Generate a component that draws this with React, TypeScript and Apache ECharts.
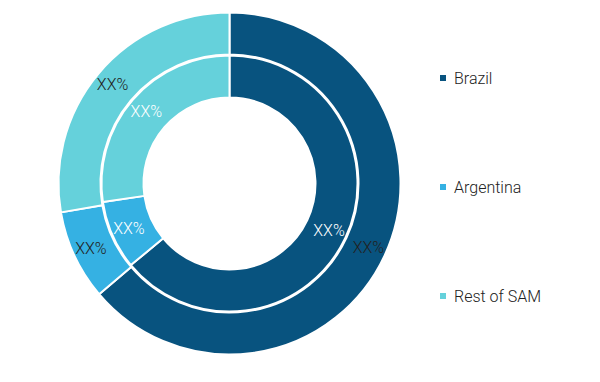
import React, { useEffect, useRef } from "react";
import * as echarts from "echarts";

const categories = ["Brazil", "Argentina", "Rest of SAM"];
const outerValues = [63.8, 8.5, 27.7];
const innerValues = [64.0, 8.7, 27.3];
const labelText = "XX%";
const colors = ["#08537F", "#35B1E3", "#65D1DB"];

export default function App() {
  const ref = useRef<HTMLDivElement>(null);
  useEffect(() => {
    document.body.style.margin = "0";
    const chart = echarts.init(ref.current!, null, { renderer: "svg" });
    const mk = (vals: number[]) =>
      categories.map((name, i) => ({ name, value: vals[i] }));
    const font = { fontFamily: "Roboto", fontWeight: 300, fontSize: 16 };
    chart.setOption({
      animation: false,
      color: colors,
      legend: {
        orient: "vertical",
        left: 438,
        top: 70,
        padding: 0,
        itemWidth: 8,
        itemHeight: 8,
        itemGap: 93,
        icon: "rect",
        data: categories,
        textStyle: { ...font, color: "#222", padding: [0, 0, 0, 2] },
      },
      series: [
        {
          type: "pie",
          center: [229.5, 183.5],
          radius: [129, 171],
          startAngle: 90,
          clockwise: true,
          data: mk(outerValues),
          itemStyle: { borderColor: "#fff", borderWidth: 2 },
          label: {
            show: true,
            position: "inside",
            formatter: labelText,
            ...font,
            color: "#222",
          },
          labelLine: { show: false },
          emphasis: { disabled: true },
        },
        {
          type: "pie",
          center: [229.5, 183.5],
          radius: [86, 128],
          startAngle: 90,
          clockwise: true,
          data: mk(innerValues),
          itemStyle: { borderColor: "#fff", borderWidth: 2 },
          label: {
            show: true,
            position: "inside",
            formatter: labelText,
            ...font,
            color: "#fff",
          },
          labelLine: { show: false },
          emphasis: { disabled: true },
        },
      ],
    });
    return () => chart.dispose();
  }, []);
  return <div ref={ref} style={{ width: 600, height: 382 }} />;
}
